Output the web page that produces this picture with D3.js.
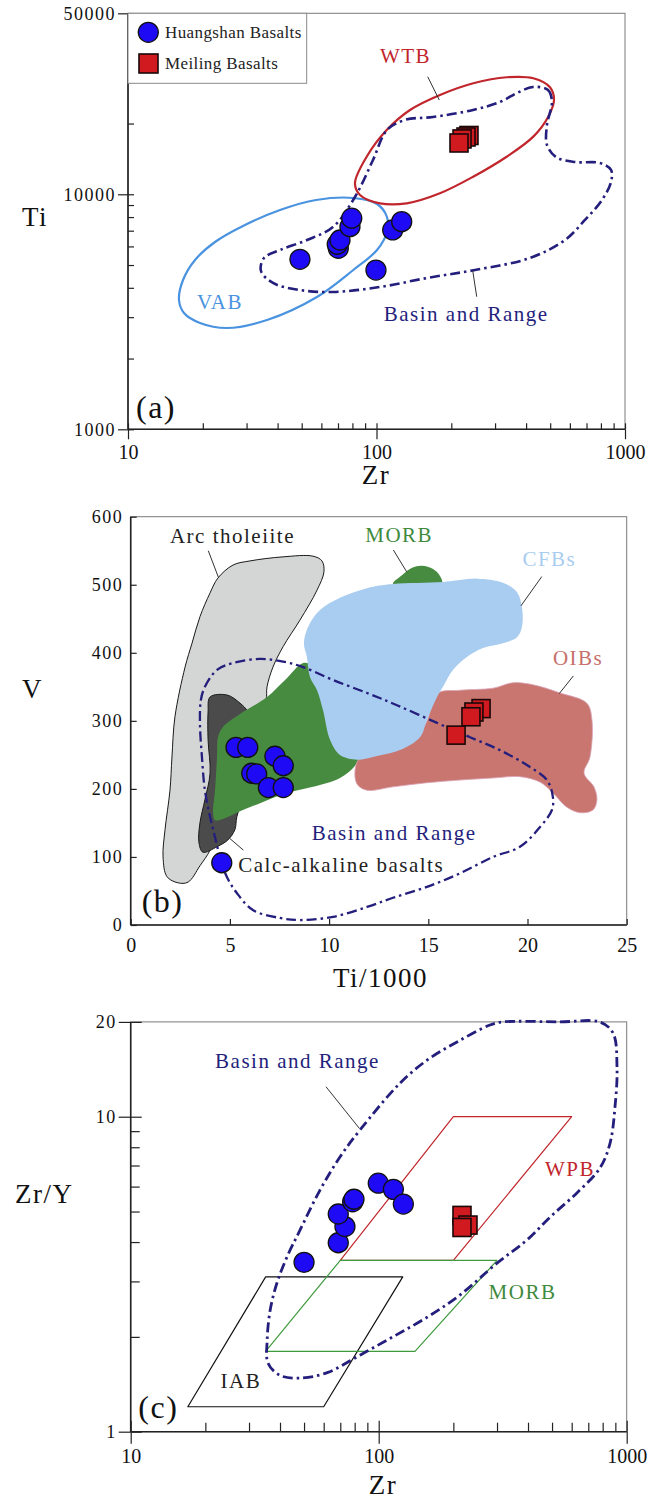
<!DOCTYPE html>
<html>
<head>
<meta charset="utf-8">
<title>Zr-Ti, Ti-V and Zr-Zr/Y diagrams</title>
<script src="https://d3js.org/d3.v7.min.js"></script>
<style>
  body { margin: 0; background: #fff; }
  svg { display: block; }
</style>
</head>
<body>
<svg width="664" height="1500"></svg>
<script>
// ---------------- data ----------------
// (a) Zr vs Ti
const huangZrA = [49.2, 70.2, 69.5, 71.3, 78.2, 79.5, 99.5, 116.2, 126.3];
const huangTiA = [5290, 5890, 6130, 6390, 7280, 7910, 4760, 7050, 7650];
const meilZrA = [235.6, 229.2, 220.9, 214.8];
const meilTiA = [17790, 17530, 17200, 16530];
const yTopA = 58900;                      // top of the Ti axis (labelled 50000 in the source)
const yLabelsA = ["1000", "10000", "50000"];

// field outlines, [Zr, Ti]
const wtbA = [[81.9,11140],[91.3,14450],[109.9,18770],[136.4,22840],[180.1,26460],[245.2,29670],
  [334,31470],[427.6,31160],[499,28530],[518,25190],[491,21390],[427.6,17590],[334,14450],
  [245,11880],[180,10100],[132.3,9155],[103.3,9155],[85.8,9931]];
const vabA = [[16.04,3549],[16.65,4318],[18.61,5253],[22.39,6266],[29.02,7332],[40.9,8573],
  [57.1,9456],[80.64,9645],[100.5,9094],[110.2,8005],[110.2,6911],[100.5,5794],[80.64,4763],
  [57.6,3656],[36.25,2918],[25.03,2698],[19.49,2834],[16.8,3125]];
const basinA = [[426.5,28620],[489.7,27790],[508.2,24710],[485.3,19720],[485.3,16210],[527.6,14410],
  [629.2,13720],[793.3,13590],[878.4,12690],[878.4,11280],[808,9456],[690.2,7776],[573.6,6390],
  [414.8,5357],[249.1,4763],[159.7,4404],[103.3,4033],[66.8,3839],[49.2,3915],[38.33,4194],
  [34.29,4716],[35.26,5357],[40.9,5794],[52.53,6390],[66.8,7259],[81.9,9739],[96.8,13990],
  [110.2,18770],[130.2,20720],[168.8,21330],[244.5,22840],[314.1,24710],[367.7,26980]];

// (b) Ti/1000 vs V
const huangTiB = [5.31, 5.90, 7.27, 7.69, 6.10, 6.35, 6.94, 7.69, 4.59];
const huangVB  = [261, 261, 248, 234, 223, 222, 202, 202, 91.5];
const meilTiB = [17.66, 17.30, 17.15, 16.40];
const meilVB  = [318, 313, 306, 279];

const arcThol = [[4.40,510],[5.16,529],[6.01,535],[7.68,541],[9.19,542],[9.64,535],[9.74,519],
  [9.39,492],[8.53,448],[7.68,409],[7.17,379],[6.87,350],[6.82,331],[6.27,301],[5.51,243],
  [4.75,169],[4.00,110],[3.49,87],[2.89,63],[2.38,62],[1.83,71],[1.63,100],[1.73,140],
  [1.98,198],[2.08,247],[2.23,306],[2.74,379],[3.09,414],[3.49,453],[4.00,488]];
const calcAlk = [[4.00,335],[4.85,338],[5.51,326],[5.91,313],[6.27,272],[5.76,198],[5.35,159],
  [5.25,140],[4.90,125],[4.35,115],[3.64,107],[3.44,121],[3.49,150],[3.74,184],[4.00,223],
  [3.90,272],[3.90,313]];
const morbB = [[8.69,385],[7.78,360],[6.87,335],[5.51,310],[4.65,291],[4.40,276],[4.35,247],
  [4.25,198],[4.15,165],[4.25,154],[4.75,157],[5.35,165],[6.52,179],[7.88,194],[9.19,203],
  [10.55,216],[11.31,234],[11.56,250],[10.80,301],[9.79,360],[9.14,382]];
const morbTopB = [[13.22,501],[13.67,514],[14.18,525],[14.68,528],[15.24,523],[15.59,513],
  [15.69,501],[14.58,492]];
const cfbB = [[8.88,394],[8.73,414],[8.94,438],[9.54,463],[10.55,481],[11.91,495],[13.22,501],
  [15.74,504],[17.45,509],[18.76,503],[19.47,489],[19.72,467],[19.72,438],[19.47,423],
  [18.76,414],[17.76,407],[16.95,394],[16.25,375],[15.74,350],[15.44,335],[14.93,301],
  [14.58,276],[13.57,257],[12.21,247],[11.41,243],[10.55,250],[10.05,272],[9.69,316],
  [9.39,345],[9.04,364]];
const oibB = [[15.44,340],[16.60,345],[18.26,348],[19.27,356],[20.28,353],[21.64,341],[22.99,326],
  [23.25,301],[23.15,247],[22.85,223],[23.35,203],[23.50,184],[23.30,169],[22.65,165],
  [21.99,173],[21.28,194],[20.63,210],[19.62,218],[18.26,216],[16.60,213],[14.93,209],
  [13.22,203],[11.91,198],[11.41,207],[11.31,228],[11.56,245],[13.57,260],[14.83,294]];
const basinB = [[3.54,331],[3.74,350],[4.35,375],[5.16,385],[6.52,391],[7.68,387],[8.69,379],
  [10.20,360],[11.91,341],[13.42,323],[15.44,297],[17.10,276],[18.61,257],[19.97,235],
  [20.98,213],[21.28,188],[21.23,169],[20.63,144],[19.62,115],[18.26,100],[16.60,76],
  [14.93,56],[13.22,40],[11.91,26.5],[10.20,12],[8.53,7.3],[7.52,10.3],[6.16,22],[5.35,47],
  [4.85,70.5],[4.50,100],[4.25,129],[4.00,159],[3.74,198],[3.59,247],[3.49,297]];

// (c) Zr vs Zr/Y
const huangZrC = [50, 68.7, 73.1, 68.7, 78.5, 79.5, 99.6, 114.6, 125.7];
const huangZrYC = [3.45, 3.98, 4.48, 4.91, 5.37, 5.47, 6.15, 5.88, 5.28];
const meilZrC = [216.7, 229.1, 216.7];
const meilZrYC = [4.86, 4.53, 4.45];

const basinC = [[317,20],[538,20],[780,19.98],[881,18.44],[914,14.38],[897,10.74],[857,8.25],
  [780,6.87],[630,5.73],[491,4.80],[396,4.06],[300,3.43],[213,2.72],[157,2.31],[114,2.00],
  [84,1.75],[62,1.54],[48,1.48],[40,1.51],[35.8,1.65],[35.5,1.95],[36.5,2.43],[38.9,2.97],
  [42.7,3.59],[48.2,4.37],[58,5.85],[69.8,7.45],[84,9.07],[122,12.79],[157,15.14],
  [207,17.27],[281,19.55]];
const wpbC  = [[70,3.5],[200,10],[600,10],[200,3.5]];
const morbC = [[35,1.8],[70,3.5],[300,3.5],[140,1.8]];
const iabC  = [[17,1.2],[35,3.1],[125,3.1],[60,1.2]];

// ---------------- drawing ----------------
const SERIF = "'Liberation Serif','Times New Roman',serif";
const BLUE = "#1f0af5", RED = "#d01a1f", NAVY = "#241e7c";

const svg = d3.select("svg").attr("font-family", SERIF);
svg.append("rect").attr("width", 664).attr("height", 1500).attr("fill", "#fff");

const xA = d3.scaleLog().domain([10, 1000]).range([128, 625]);
const yA = d3.scaleLog().domain([1000, yTopA]).range([429.3, 13.3]);
const xB = d3.scaleLinear().domain([0, 25]).range([130.7, 626.7]);
const yB = d3.scaleLinear().domain([0, 600]).range([925, 516.7]);
const xC = d3.scaleLog().domain([10, 1000]).range([130.7, 626.7]);
const yC = d3.scaleLog().domain([1, 20]).range([1431.7, 1021.9]);

const minorDec = [2,3,4,5,6,7,8,9];

function drawAxes(x, y, c) {
  const g = svg.append("g");
  const [xl, xr] = x.range(), [yb, yt] = y.range();
  g.append("rect").attr("x", xl).attr("y", yt).attr("width", xr - xl).attr("height", yb - yt)
    .attr("fill", "none").attr("stroke", "#7a7a7a").attr("stroke-width", 1);

  const bottom = g.append("g").attr("transform", `translate(0,${yb})`);
  const left = g.append("g").attr("transform", `translate(${xl},0)`);

  if (c.xMinor) bottom.append("g").call(d3.axisBottom(x).tickValues(c.xMinor).tickSize(-c.minorLen).tickFormat(""));
  if (c.yMinor) left.append("g").call(d3.axisLeft(y).tickValues(c.yMinor).tickSize(-c.minorLen).tickFormat(""));
  bottom.append("g").call(d3.axisBottom(x).tickValues(c.xMajor).tickSize(-c.majorIn).tickFormat(""));
  left.append("g").call(d3.axisLeft(y).tickValues(c.yMajor).tickSize(-c.majorIn).tickFormat(""));

  const bl = bottom.append("g").call(d3.axisBottom(x).tickValues(c.xMajor).tickSize(c.majorOut)
    .tickPadding(c.padX).tickFormat(c.xFmt));
  const ll = left.append("g").call(d3.axisLeft(y).tickValues(c.yMajor).tickSize(c.majorOut)
    .tickPadding(c.padY).tickFormat(c.yFmt));

  g.selectAll(".domain").remove();
  g.selectAll(".tick line").attr("stroke", "#222").attr("stroke-width", 1.2);
  bl.selectAll("text").attr("font-family", SERIF).attr("font-size", 20).attr("fill", "#111");
  ll.selectAll("text").attr("font-family", SERIF).attr("font-size", 18).attr("fill", "#111")
    .attr("letter-spacing", 1.5);

  g.append("line").attr("x1", xl).attr("x2", xr).attr("y1", yb).attr("y2", yb)
    .attr("stroke", "#222").attr("stroke-width", 1.6);
  g.append("line").attr("x1", xl).attr("x2", xl).attr("y1", yb).attr("y2", yt)
    .attr("stroke", "#222").attr("stroke-width", 1.6);
}

function region(x, y, pts, curve, fill, stroke, sw, dash) {
  const line = d3.line().x(d => x(d[0])).y(d => y(d[1])).curve(curve);
  svg.append("path").attr("d", line(pts))
    .attr("fill", fill).attr("stroke", stroke).attr("stroke-width", sw)
    .attr("stroke-dasharray", dash || null).attr("stroke-linejoin", "round");
}
const smooth = d3.curveCatmullRomClosed.alpha(0.5);
const DASH = "10,4,2.5,4";

function circles(x, y, xs, ys) {
  svg.append("g").selectAll("circle").data(xs.map((v, i) => [v, ys[i]])).join("circle")
    .attr("cx", d => x(d[0])).attr("cy", d => y(d[1])).attr("r", 10)
    .attr("fill", BLUE).attr("stroke", "#111").attr("stroke-width", 1.3);
}
function squares(x, y, xs, ys) {
  const s = 18;
  svg.append("g").selectAll("rect").data(xs.map((v, i) => [v, ys[i]])).join("rect")
    .attr("x", d => x(d[0]) - s / 2).attr("y", d => y(d[1]) - s / 2)
    .attr("width", s).attr("height", s)
    .attr("fill", RED).attr("stroke", "#1a0808").attr("stroke-width", 1.6);
}
function label(x, y, v, t, color, anchor) {
  svg.append("text").attr("x", x(v[0])).attr("y", y(v[1])).text(t)
    .attr("fill", color).attr("font-size", 21).attr("letter-spacing", 1.5)
    .attr("text-anchor", anchor || "middle");
}
function leader(x, y, a, b) {
  svg.append("line").attr("x1", x(a[0])).attr("y1", y(a[1])).attr("x2", x(b[0])).attr("y2", y(b[1]))
    .attr("stroke", "#333").attr("stroke-width", 1);
}
function title(px, py, t, size, anchor) {
  svg.append("text").attr("x", px).attr("y", py).text(t).attr("font-size", size)
    .attr("fill", "#111").attr("letter-spacing", 1.5).attr("text-anchor", anchor || "start");
}

// ----- panel (a) -----
drawAxes(xA, yA, {
  xMajor: [10, 100, 1000], xMinor: [...minorDec.map(d => d * 10), ...minorDec.map(d => d * 100)],
  yMajor: [1000, 10000, yTopA], yMinor: [...minorDec.map(d => d * 1000), 20000, 30000, 40000, 50000],
  majorOut: 10, majorIn: 6, minorLen: 6, padX: 6, padY: 2,
  xFmt: d3.format("d"), yFmt: (d, i) => yLabelsA[i]
});
region(xA, yA, vabA, smooth, "none", "#4a93e0", 2.2);
region(xA, yA, wtbA, smooth, "none", "#c1262c", 2.2);
region(xA, yA, basinA, smooth, "none", NAVY, 2.6, DASH);
label(xA, yA, [130.8, 36100], "WTB", "#c1262c");
leader(xA, yA, [160.7, 31650], [178.9, 25190]);
label(xA, yA, [23.45, 3241], "VAB", "#4a93e0");
label(xA, yA, [229.6, 2898], "Basin and Range", NAVY);
leader(xA, yA, [243.9, 4730], [253.1, 3666]);
squares(xA, yA, meilZrA, meilTiA);
circles(xA, yA, huangZrA, huangTiA);

// legend
const lg = svg.append("g");
lg.append("rect").attr("x", 128).attr("y", 13.3).attr("width", 178.7).attr("height", 70)
  .attr("fill", "#fff").attr("stroke", "#8a8a8a").attr("stroke-width", 1);
lg.append("circle").attr("cx", 148.3).attr("cy", 32.3).attr("r", 10)
  .attr("fill", BLUE).attr("stroke", "#111").attr("stroke-width", 1.3);
lg.append("rect").attr("x", 139).attr("y", 54).attr("width", 19).attr("height", 19)
  .attr("fill", RED).attr("stroke", "#1a0808").attr("stroke-width", 1.6);
lg.append("text").attr("x", 165).attr("y", 37.5).text("Huangshan Basalts")
  .attr("font-size", 17).attr("letter-spacing", 0.4).attr("fill", "#222");
lg.append("text").attr("x", 165).attr("y", 68.5).text("Meiling Basalts")
  .attr("font-size", 17).attr("letter-spacing", 0.4).attr("fill", "#222");

title(136, 418, "(a)", 32);
title(22, 226, "Ti", 27);
title(376, 484, "Zr", 27, "middle");

// ----- panel (b) -----
drawAxes(xB, yB, {
  xMajor: [0, 5, 10, 15, 20, 25], yMajor: [0, 100, 200, 300, 400, 500, 600],
  majorOut: 0, majorIn: 6, padX: 13, padY: 7.5,
  xFmt: d3.format("d"), yFmt: d3.format("d")
});
region(xB, yB, arcThol, smooth, "#d4d5d5", "#1a1a1a", 1);
region(xB, yB, calcAlk, smooth, "#4b4b4b", "#1a1a1a", 1);
region(xB, yB, morbB, smooth, "#478b40", "none", 0);
region(xB, yB, oibB, smooth, "#c8766f", "#d9a3b8", 0.8);
region(xB, yB, morbTopB, smooth, "#478b40", "none", 0);
region(xB, yB, cfbB, smooth, "#a9cdf0", "none", 0);
region(xB, yB, basinB, smooth, "none", NAVY, 2.3, DASH);
label(xB, yB, [5.13, 562], "Arc tholeiite", "#222");
leader(xB, yB, [3.91, 550], [4.42, 511]);
label(xB, yB, [5.42, 78.3], "Calc-alkaline basalts", "#222", "start");
leader(xB, yB, [5.00, 127], [5.68, 110]);
label(xB, yB, [13.53, 563], "MORB", "#3f8a3d");
leader(xB, yB, [13.24, 551], [13.91, 519]);
label(xB, yB, [21.10, 528], "CFBs", "#a9cdf0");
leader(xB, yB, [20.72, 512], [19.67, 469]);
label(xB, yB, [22.55, 382], "OIBs", "#c5706a");
leader(xB, yB, [22.31, 366], [21.60, 340]);
label(xB, yB, [13.28, 125], "Basin and Range", NAVY);
squares(xB, yB, meilTiB, meilVB);
circles(xB, yB, huangTiB, huangVB);

title(141.7, 912, "(b)", 32);
title(22, 698, "V", 27);
title(333, 986.7, "Ti/1000", 27);

// ----- panel (c) -----
drawAxes(xC, yC, {
  xMajor: [10, 100, 1000], xMinor: [...minorDec.map(d => d * 10), ...minorDec.map(d => d * 100)],
  yMajor: [1, 10, 20], yMinor: minorDec,
  majorOut: 12, majorIn: 11, minorLen: 9, padX: 5, padY: 2,
  xFmt: d3.format("d"), yFmt: d3.format("d")
});
region(xC, yC, iabC, d3.curveLinearClosed, "none", "#111", 1.2);
region(xC, yC, wpbC, d3.curveLinearClosed, "none", "#c1262c", 1.2);
region(xC, yC, morbC, d3.curveLinearClosed, "none", "#3f9a3d", 1.2);
region(xC, yC, basinC, smooth, "none", NAVY, 2.8, DASH);
label(xC, yC, [47.05, 14.24], "Basin and Range", NAVY);
leader(xC, yC, [61.3, 12.45], [83.5, 9.19]);
label(xC, yC, [590.7, 6.48], "WPB", "#c1262c");
label(xC, yC, [380.1, 2.63], "MORB", "#3f8a3d");
label(xC, yC, [27.8, 1.38], "IAB", "#222");
squares(xC, yC, meilZrC, meilZrYC);
circles(xC, yC, huangZrC, huangZrYC);

title(138.3, 1418, "(c)", 32);
title(15, 1203, "Zr/Y", 27);
title(383, 1494, "Zr", 27, "middle");
</script>
</body>
</html>
